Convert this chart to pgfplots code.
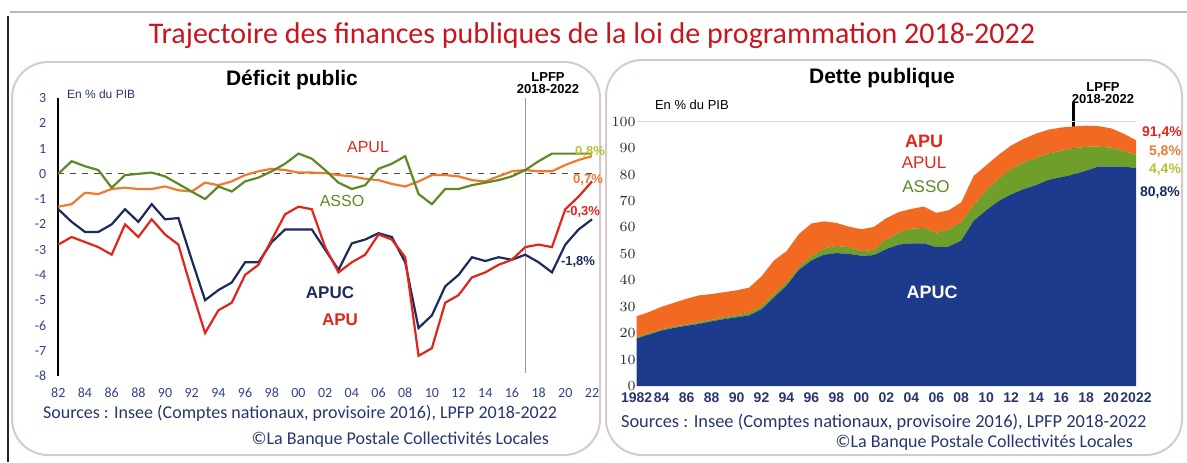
\documentclass[border=0pt]{standalone}
\usepackage{pgfplots}
\pgfplotsset{compat=1.18}
\usepackage{pgfplotstable}
\usepackage{fontspec}
\setmainfont{Carlito}
\newfontfamily\arialf{Liberation Sans}
\definecolor{titlered}{HTML}{C8161E}
\definecolor{apured}{HTML}{E0261C}
\definecolor{apulor}{HTML}{F07A2C}
\definecolor{assogr}{HTML}{5B8A26}
\definecolor{apucnv}{HTML}{1B2C5C}
\definecolor{areaor}{HTML}{F26A21}
\definecolor{areagr}{HTML}{6F9E2B}
\definecolor{areanv}{HTML}{1D3B8C}
\definecolor{ygreen}{HTML}{B8C030}
\definecolor{ticknv}{HTML}{2E4488}
\definecolor{srcnv}{HTML}{26366F}
\definecolor{panel}{HTML}{D8C9CD}

\pgfplotstableread{
year apu apuc asso apul
1982 -2.8 -1.4 0.0 -1.3
1983 -2.5 -1.9 0.5 -1.2
1984 -2.7 -2.3 0.3 -0.75
1985 -2.9 -2.3 0.15 -0.8
1986 -3.2 -2.0 -0.55 -0.6
1987 -2.0 -1.4 -0.05 -0.55
1988 -2.5 -1.9 0.0 -0.6
1989 -1.8 -1.2 0.05 -0.6
1990 -2.4 -1.8 -0.1 -0.5
1991 -2.8 -1.75 -0.4 -0.65
1992 -4.6 -3.4 -0.7 -0.7
1993 -6.3 -5.0 -1.0 -0.35
1994 -5.4 -4.6 -0.5 -0.45
1995 -5.1 -4.3 -0.7 -0.3
1996 -4.0 -3.5 -0.3 -0.05
1997 -3.6 -3.5 -0.15 0.1
1998 -2.6 -2.7 0.1 0.2
1999 -1.6 -2.2 0.4 0.15
2000 -1.3 -2.2 0.8 0.05
2001 -1.4 -2.2 0.6 0.05
2002 -2.9 -3.0 0.15 0.03
2003 -3.9 -3.8 -0.35 -0.05
2004 -3.5 -2.75 -0.6 -0.1
2005 -3.2 -2.6 -0.45 -0.2
2006 -2.4 -2.35 0.2 -0.25
2007 -2.6 -2.5 0.4 -0.4
2008 -3.3 -3.5 0.7 -0.5
2009 -7.2 -6.1 -0.8 -0.3
2010 -6.9 -5.6 -1.2 -0.05
2011 -5.1 -4.45 -0.6 -0.05
2012 -4.8 -4.0 -0.6 -0.1
2013 -4.1 -3.3 -0.45 -0.25
2014 -3.9 -3.45 -0.35 -0.3
2015 -3.6 -3.3 -0.25 -0.1
2016 -3.4 -3.4 -0.1 0.1
2017 -2.9 -3.2 0.15 0.15
2018 -2.8 -3.5 0.5 0.1
2019 -2.9 -3.9 0.8 0.1
2020 -1.4 -2.8 0.8 0.35
2021 -0.9 -2.2 0.8 0.55
2022 -0.3 -1.8 0.8 0.7
}\deficit

\pgfplotstableread{
year apuc asso apul
1982 18.0 0.5 7.9
1983 19.5 0.5 8.0
1984 21.0 0.5 8.5
1985 22.0 0.5 9.0
1986 22.8 0.5 9.7
1987 23.5 0.7 10.1
1988 24.5 0.5 9.8
1989 25.3 0.7 9.5
1990 26.0 0.8 9.4
1991 26.7 1.0 9.5
1992 29.0 1.2 11.3
1993 33.5 1.3 12.7
1994 38.0 1.0 12.0
1995 44.0 1.0 12.5
1996 47.5 1.5 12.5
1997 49.7 2.3 10.3
1998 50.3 2.7 8.7
1999 50.0 2.5 7.8
2000 49.3 1.7 8.3
2001 49.5 2.0 8.7
2002 51.8 3.7 8.0
2003 53.5 4.5 7.8
2004 54.0 5.5 7.5
2005 54.0 5.8 8.1
2006 52.5 5.5 7.5
2007 52.8 6.5 7.2
2008 55.0 7.0 7.5
2009 62.5 6.0 11.0
2010 66.5 7.5 9.5
2011 70.0 8.5 9.0
2012 72.5 9.5 9.0
2013 74.5 10.0 9.0
2014 76.0 10.3 9.2
2015 78.0 10.0 9.0
2016 79.0 10.0 8.8
2017 80.0 10.0 8.2
2018 81.5 9.0 8.0
2019 83.0 7.6 7.7
2020 83.0 7.2 7.3
2021 83.0 6.0 6.5
2022 82.5 5.0 5.5
}\dette

\begin{document}
\begin{tikzpicture}[x=1pt,y=1pt]
\path[use as bounding box] (0,0) rectangle (593.5,231);
% scan edges
\draw[black!85, line width=1.2pt] (4,0) -- (4,223);
\draw[gray!55, line width=1pt] (5,225) -- (593.5,225);
% panels
\draw[panel, line width=1pt, rounded corners=18pt] (6,3.5) rectangle (300,200);
\draw[panel, line width=1pt, rounded corners=18pt] (303,3.5) rectangle (591,201);
% main title
\node[titlered] at (296,213) {\fontsize{15}{17}\selectfont Trajectoire des finances publiques de la loi de programmation 2018-2022};

% ---------------- Left: deficit ----------------
\begin{axis}[
  at={(29.15pt,43pt)}, anchor=south west,
  scale only axis, width=266.85pt, height=139pt,
  xmin=1982, xmax=2022, ymin=-8, ymax=3,
  axis y line=left, axis x line=bottom,
  axis line style={-}, x axis line style={draw=none},
  y axis line style={black, line width=0.9pt},
  major tick length=0pt,
  xtick={1982,1984,...,2022},
  xticklabels={82,84,86,88,90,92,94,96,98,00,02,04,06,08,10,12,14,16,18,20,22},
  ytick={-8,-7,...,3},
  yticklabels={-8,-7,-6,-5,-4,-3,-2,-1,0,1,2,3},
  tick label style={font=\fontsize{7}{8}\selectfont, text=ticknv},
  xticklabel style={yshift=-2.5pt},
  yticklabel style={xshift=-2.5pt},
  clip=false,
]
\draw[black!70, dashed, line width=0.6pt] (axis cs:1982,0) -- (axis cs:2022,0);
\draw[gray!80, line width=0.6pt] (axis cs:2017,-7.9) -- (axis cs:2017,3);
\addplot[apulor, line width=1.1pt] table[x=year,y=apul] {\deficit};
\addplot[assogr, line width=1.1pt] table[x=year,y=asso] {\deficit};
\addplot[apucnv, line width=1.1pt] table[x=year,y=apuc] {\deficit};
\addplot[apured, line width=1.1pt] table[x=year,y=apu] {\deficit};
\end{axis}

% ---------------- Right: debt ----------------
\begin{axis}[
  at={(318.35pt,38pt)}, anchor=south west,
  scale only axis, width=249.65pt, height=132.15pt,
  xmin=1982, xmax=2022, ymin=0, ymax=100,
  stack plots=y,
  axis y line=left, axis x line=bottom,
  axis line style={draw=none},
  major tick length=0pt,
  xtick={1982,1984,...,2022},
  xticklabels={1982,84,86,88,90,92,94,96,98,00,02,04,06,08,10,12,14,16,18,20,2022},
  ytick={0,10,...,100},
  yticklabel style={font=\arialf\bfseries\fontsize{7.5}{8}\selectfont, text=black!85, xshift=3pt},
  xticklabel style={font=\arialf\bfseries\fontsize{7}{8}\selectfont, text=srcnv},
  clip=false,
]
\draw[gray!30, line width=0.6pt] (axis cs:1982,100) -- (axis cs:2022,100);
\addplot[fill=areanv, draw=none] table[x=year,y=apuc] {\dette} \closedcycle;
\addplot[fill=areagr, draw=none] table[x=year,y=asso] {\dette} \closedcycle;
\addplot[fill=areaor, draw=none] table[x=year,y=apul] {\dette} \closedcycle;
\draw[black, line width=1.5pt] (axis cs:2017,0) -- (axis cs:2017,107);
\end{axis}

% ---------------- texts ----------------
\begin{scope}[font=\arialf]
% left panel
\node at (146,191) {\bfseries\fontsize{10.5}{12}\selectfont Déficit public};
\node[anchor=west, text=srcnv] at (30,184) {\fontsize{6}{7}\selectfont En \% du PIB};
\node[align=center, font=\arialf\bfseries\fontsize{6.5}{7}\selectfont] at (274,189.5) {LPFP\\[-1pt]2018-2022};
\node[apured] at (184,157.5) {\fontsize{8}{9}\selectfont APUL};
\node[assogr] at (171,130.5) {\fontsize{8}{9}\selectfont ASSO};
\node[apucnv] at (165,84.5) {\bfseries\fontsize{8.5}{9}\selectfont APUC};
\node[apured] at (170,71) {\bfseries\fontsize{8.5}{9}\selectfont APU};
\node[ygreen] at (295,155) {\bfseries\fontsize{6.5}{7}\selectfont 0,8\%};
\node[apulor] at (294,141) {\bfseries\fontsize{6.5}{7}\selectfont 0,7\%};
\node[apured] at (291.5,125) {\bfseries\fontsize{6.5}{7}\selectfont -0,3\%};
\node[apucnv] at (289,100) {\bfseries\fontsize{6.5}{7}\selectfont -1,8\%};
% right panel
\node at (441,192) {\bfseries\fontsize{10.5}{12}\selectfont Dette publique};
\node[anchor=west] at (324,178.5) {\fontsize{6.5}{7}\selectfont En \% du PIB};
\node[align=center, font=\arialf\bfseries\fontsize{6.5}{7}\selectfont] at (551.5,184.5) {LPFP\\[-1pt]2018-2022};
\node[apured] at (462,160.5) {\bfseries\fontsize{9}{10}\selectfont APU};
\node[apured] at (462,149.5) {\fontsize{8.5}{9}\selectfont APUL};
\node[assogr] at (463,137.5) {\fontsize{8.5}{9}\selectfont ASSO};
\node[white] at (466,85) {\bfseries\fontsize{9}{10}\selectfont APUC};
\node[apured] at (581,164.5) {\bfseries\fontsize{7}{8}\selectfont 91,4\%};
\node[apulor] at (582.5,155) {\bfseries\fontsize{7}{8}\selectfont 5,8\%};
\node[ygreen] at (582.5,146) {\bfseries\fontsize{7}{8}\selectfont 4,4\%};
\node[apucnv] at (580,134.5) {\bfseries\fontsize{7}{8}\selectfont 80,8\%};
\end{scope}
% sources
\node[anchor=west, text=srcnv] at (18,24.5) {\fontsize{9}{10}\selectfont Sources : Insee (Comptes nationaux, provisoire 2016), LPFP 2018-2022};
\node[anchor=east, text=srcnv] at (278,11) {\fontsize{9}{10}\selectfont ©La Banque Postale Collectivités Locales};
\node[anchor=west, text=srcnv] at (307,20) {\fontsize{9.2}{10}\selectfont Sources : Insee (Comptes nationaux, provisoire 2016), LPFP 2018-2022};
\node[anchor=east, text=srcnv] at (570,9.5) {\fontsize{9}{10}\selectfont ©La Banque Postale Collectivités Locales};
\end{tikzpicture}
\end{document}
